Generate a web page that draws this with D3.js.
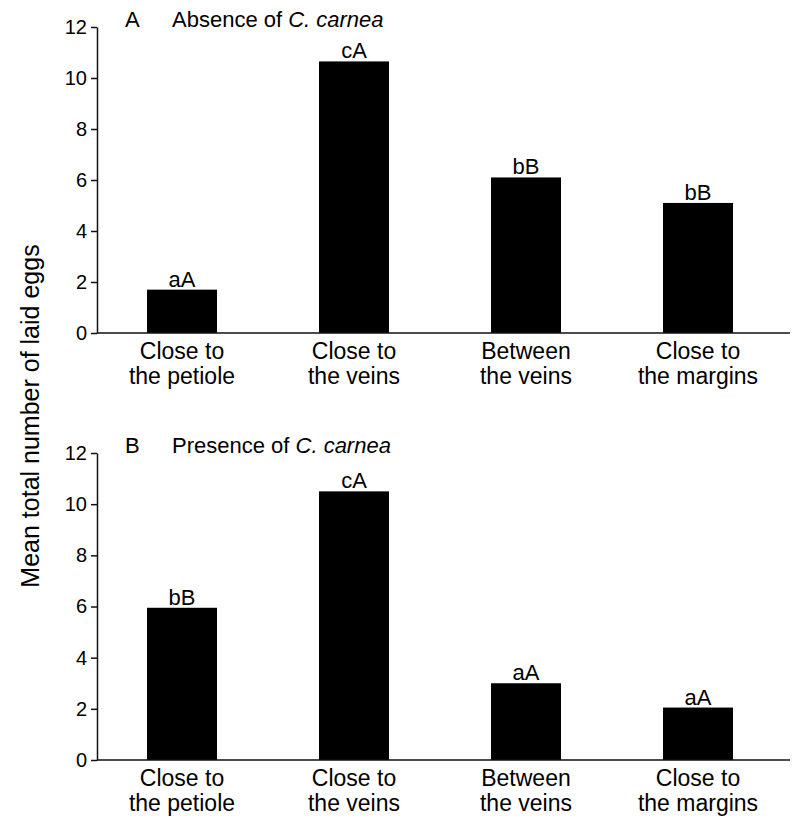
<!DOCTYPE html>
<html>
<head>
<meta charset="utf-8">
<script src="https://cdn.jsdelivr.net/npm/d3@7"></script>
<style>
  body { margin: 0; background: #fff; }
  text { font-family: "Liberation Sans", Arial, sans-serif; fill: #000; }
</style>
</head>
<body>
<script>
// Data
const categories = ["petiole", "veins", "between", "margins"];
const categoryLines = [
  ["Close to", "the petiole"],
  ["Close to", "the veins"],
  ["Between", "the veins"],
  ["Close to", "the margins"]
];
const absenceValues = [1.7, 10.65, 6.1, 5.1];
const absenceLetters = ["aA", "cA", "bB", "bB"];
const presenceValues = [5.95, 10.5, 3.0, 2.05];
const presenceLetters = ["bB", "cA", "aA", "aA"];
const yTicks = [0, 2, 4, 6, 8, 10, 12];

// Setup variables
const width = 794;
const height = 818;
const xStart = 97;
const xEnd = 785;
const axisEnd = 790;

const svg = d3.select("body")
  .append("svg")
  .attr("width", width)
  .attr("height", height);

// Shared x scale (bars ~70px wide, centred in each step)
const x = d3.scaleBand()
  .domain(categories)
  .range([xStart - 1, xEnd - 1])
  .paddingInner(0.593)
  .paddingOuter(0.2965);

// Function to draw one panel
const drawPanel = (yTop, yBottom, values, letters, tag, label) => {
  const g = svg.append("g");
  const y = d3.scaleLinear().domain([0, 12]).range([yBottom, yTop]);

  // bars
  g.selectAll("rect")
    .data(values)
    .join("rect")
    .attr("x", (d, i) => x(categories[i]))
    .attr("y", d => y(d))
    .attr("width", x.bandwidth())
    .attr("height", d => y(0) - y(d))
    .attr("fill", "#000");

  // letters above bars
  g.selectAll(".letter")
    .data(values)
    .join("text")
    .attr("class", "letter")
    .attr("x", (d, i) => x(categories[i]) + x.bandwidth() / 2)
    .attr("y", d => y(d) - 3)
    .attr("text-anchor", "middle")
    .attr("font-size", 22)
    .text((d, i) => letters[i]);

  // y axis
  const yAxis = g.append("g")
    .attr("transform", `translate(${xStart}, 0)`)
    .call(d3.axisLeft(y).tickValues(yTicks).tickSize(6).tickSizeOuter(0).tickPadding(4));
  yAxis.selectAll("path, line").attr("stroke", "#111").attr("stroke-width", 1.5);
  yAxis.selectAll("text")
    .attr("font-size", 20)
    .attr("font-family", "Liberation Sans, Arial, sans-serif")
    .attr("fill", "#000");

  // x axis line
  g.append("line")
    .attr("x1", xStart)
    .attr("x2", axisEnd)
    .attr("y1", y(0))
    .attr("y2", y(0))
    .attr("stroke", "#111")
    .attr("stroke-width", 1.5);

  // category labels (two lines each)
  const cat = g.selectAll(".cat")
    .data(categoryLines)
    .join("text")
    .attr("class", "cat")
    .attr("text-anchor", "middle")
    .attr("font-size", 23);
  cat.append("tspan")
    .attr("x", (d, i) => x(categories[i]) + x.bandwidth() / 2)
    .attr("y", y(0) + 26)
    .text(d => d[0]);
  cat.append("tspan")
    .attr("x", (d, i) => x(categories[i]) + x.bandwidth() / 2)
    .attr("y", y(0) + 51)
    .text(d => d[1]);

  // panel title
  g.append("text")
    .attr("x", 125)
    .attr("y", yTop)
    .attr("font-size", 22)
    .text(tag);
  const title = g.append("text")
    .attr("x", 172)
    .attr("y", yTop)
    .attr("font-size", 22);
  title.append("tspan").text(label + " of ");
  title.append("tspan").attr("font-style", "italic").text("C. carnea");
};

drawPanel(27, 333, absenceValues, absenceLetters, "A", "Absence");
drawPanel(453, 760, presenceValues, presenceLetters, "B", "Presence");

// shared y label
svg.append("text")
  .attr("transform", "translate(39, 416) rotate(-90)")
  .attr("text-anchor", "middle")
  .attr("font-size", 25)
  .text("Mean total number of laid eggs");
</script>
</body>
</html>
